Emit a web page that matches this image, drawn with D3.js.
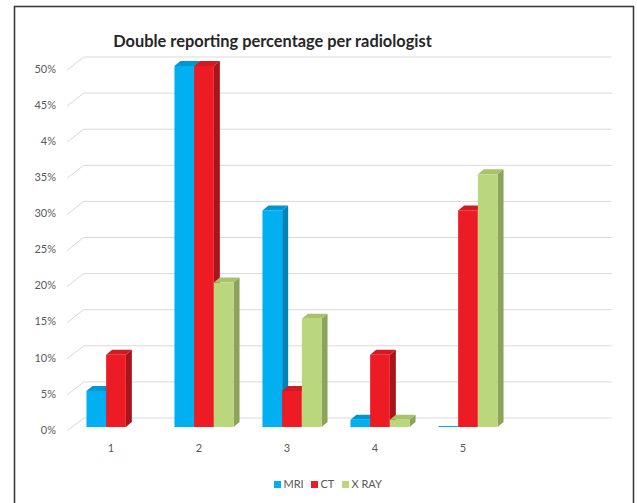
<!DOCTYPE html>
<html>
<head>
<meta charset="utf-8">
<script src="https://cdn.jsdelivr.net/npm/d3@7"></script>
<style>
  html, body { margin: 0; padding: 0; background: #fff; }
  svg { display: block; }
</style>
</head>
<body>
<script>
// Radiologist groups (the sixth slot is an empty category on the axis)
const categories = ["1", "2", "3", "4", "5", ""];
const seriesNames = ["MRI", "CT", "X RAY"];
const mriValues  = [5, 50, 30, 1, 0, null];
const ctValues   = [10, 50, 5, 10, 30, null];
const xrayValues = [null, 20, 15, 1, 35, null];
const tickValues = [0, 5, 10, 15, 20, 25, 30, 35, 40, 45, 50];
const tickLabels = ["0%", "5%", "10%", "15%", "20%", "25%", "30%", "35%", "4%", "45%", "50%"];
const titleText = "Double reporting percentage per radiologist";

const seriesColors = [
  { front: "#00B0F0", top: "#0097D1", side: "#0084B8" },
  { front: "#ED1C24", top: "#D11A22", side: "#A9131A" },
  { front: "#BBD77B", top: "#A7C46B", side: "#8BA35A" }
];
const seriesValues = [mriValues, ctValues, xrayValues];

const W = 637, H = 503;
const svg = d3.select("body").append("svg").attr("width", W).attr("height", H);
const font = "Lato, 'Open Sans', sans-serif";

// outer frame (bottom edge runs past the page)
svg.append("rect")
  .attr("x", 14.5).attr("y", 6.5).attr("width", 619).attr("height", 520)
  .attr("fill", "#fff").attr("stroke", "#3c3c3c").attr("stroke-width", 1.6);

// scales on the front plane of the floor
const x = d3.scaleBand().domain(categories).range([67, 595]).paddingInner(0).paddingOuter(0);
const y = d3.scaleLinear().domain([0, 50]).range([431, 70]);

// depth offsets: back wall and bar front plane
const wallDx = 16.7, wallDy = -13;
const barDx = 5, barDy = -4;
const depthDx = 6, depthDy = -5;

// gridlines: diagonal on side wall, horizontal on back wall
const grid = svg.append("g").attr("stroke", "#d9d9d9").attr("stroke-width", 1).attr("fill", "none");
tickValues.forEach(v => {
  const yf = y(v);
  grid.append("path")
    .attr("d", `M${x.range()[0]},${yf} L${x.range()[0] + wallDx},${yf + wallDy} L${x.range()[1] + wallDx},${yf + wallDy}`);
});

// y tick labels
svg.append("g").selectAll("text").data(tickValues).join("text")
  .attr("x", 56).attr("y", d => y(d))
  .attr("text-anchor", "end").attr("dominant-baseline", "middle")
  .attr("font-family", font).attr("font-size", 11).attr("fill", "#595959")
  .text((d, i) => tickLabels[i]);

// category labels
svg.append("g").selectAll("text").data(categories).join("text")
  .attr("x", d => x(d) + x.bandwidth() / 2).attr("y", 449)
  .attr("text-anchor", "middle").attr("dominant-baseline", "middle")
  .attr("font-family", font).attr("font-size", 11).attr("fill", "#595959")
  .text(d => d);

// 3D columns, painted left to right so each bar hides its neighbour's side
const barW = 19.7;
const groupOffset = (x.bandwidth() - barW * seriesNames.length) / 2;
const bars = svg.append("g");
categories.forEach((c, ci) => {
  seriesValues.forEach((vals, si) => {
    const v = vals[ci];
    if (v === null || v === undefined) return;
    const col = seriesColors[si];
    const x0 = x(c) + groupOffset + si * barW + barDx;
    const x1 = x0 + barW;
    const yb = y(0) + barDy;
    const yt = y(v) + barDy;
    const g = bars.append("g");
    if (v > 0) {
      g.append("path").attr("fill", col.side)
        .attr("d", `M${x1},${yt} L${x1 + depthDx},${yt + depthDy} L${x1 + depthDx},${yb + depthDy} L${x1},${yb} Z`);
      g.append("path").attr("fill", col.top)
        .attr("d", `M${x0},${yt} L${x0 + depthDx},${yt + depthDy} L${x1 + depthDx},${yt + depthDy} L${x1},${yt} Z`);
    }
    g.append("rect").attr("fill", col.front)
      .attr("x", x0).attr("width", barW)
      .attr("y", Math.min(yt, yb - 1)).attr("height", Math.max(1, yb - yt));
  });
});

// title, sized to its set width
const title = svg.append("text")
  .attr("x", 272.5).attr("y", 47).attr("text-anchor", "middle")
  .attr("font-family", font).attr("font-weight", "bold").attr("font-size", 16)
  .attr("fill", "#262626").text(titleText);
const tl = title.node().getComputedTextLength();
title.attr("font-size", 16 * 319 / tl);

// legend
const legendX = [274, 311, 342];
const legend = svg.append("g");
seriesNames.forEach((name, i) => {
  legend.append("rect").attr("x", legendX[i]).attr("y", 481).attr("width", 7).attr("height", 7)
    .attr("fill", seriesColors[i].front);
  legend.append("text").attr("x", legendX[i] + 9.5).attr("y", 485)
    .attr("dominant-baseline", "middle")
    .attr("font-family", font).attr("font-size", 11).attr("fill", "#595959")
    .text(name);
});
</script>
</body>
</html>
